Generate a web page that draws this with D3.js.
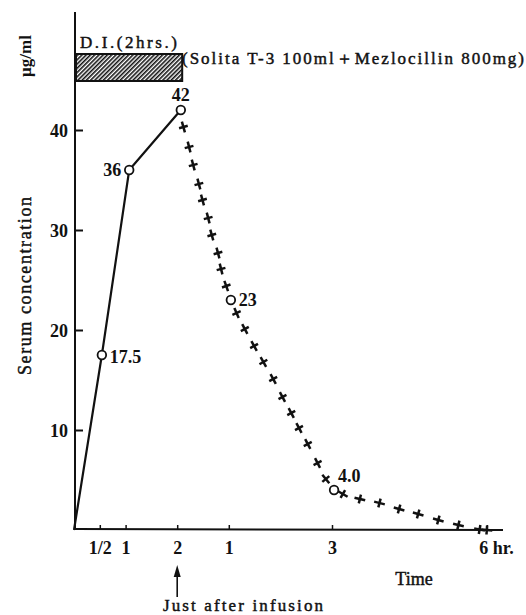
<!DOCTYPE html>
<html>
<head>
<meta charset="utf-8">
<script src="https://cdn.jsdelivr.net/npm/d3@7/dist/d3.min.js"></script>
<style>
html,body{margin:0;padding:0;background:#fff;}
svg{display:block;}
text{font-family:"Liberation Serif","DejaVu Serif",serif;fill:#111;}
.med{stroke:#111;stroke-width:0.45px;}
</style>
</head>
<body>
<svg id="chart" width="526" height="615"></svg>
<script>
// ---- data ----
const yTickValues = [10, 20, 30, 40];
const xTickValues = [0.5, 1, 2, 3, 5, 8];
const xTickLabels = ["1/2", "1", "2", "1", "3", "6 hr."];

// infusion phase (solid line + circles)
const infusionTimes  = [0, 0.54, 1.07, 2.07];
const infusionValues = [0, 17.5, 36, 42];

// labelled measurement circles
const circleTimes  = [0.54, 1.07, 2.07, 3.04, 5.04];
const circleValues = [17.5, 36, 42, 23, 4.0];
const circleLabels = ["17.5", "36", "42", "23", "4.0"];

// decay curve drawn as crosses
const crossTimes  = [2.12, 2.23, 2.31, 2.42, 2.49, 2.60, 2.67, 2.79, 2.85, 2.95,
                     3.15, 3.31, 3.49, 3.67, 3.86, 4.04, 4.21, 4.36, 4.53, 4.72, 4.88,
                     5.21, 5.54, 5.92, 6.30, 6.67, 7.06, 7.45, 7.86, 8.0];
const crossValues = [40.3, 38.3, 36.5, 34.6, 33.0, 31.2, 29.5, 27.7, 26.1, 24.4,
                     21.7, 20.1, 18.4, 16.8, 15.1, 13.3, 11.7, 10.2, 8.6, 6.7, 5.1,
                     3.6, 3.1, 2.7, 2.1, 1.6, 1.0, 0.5, 0.05, 0.0];

const infusionHours = [0, 2];

// ---- drawing ----
const svg = d3.select("#chart");
const x = d3.scaleLinear().domain([0, 8]).range([74, 486.8]);
const y = d3.scaleLinear().domain([0, 40]).range([530, 130]);

const defs = svg.append("defs");
const pat = defs.append("pattern").attr("id", "hatch")
  .attr("patternUnits", "userSpaceOnUse").attr("width", 3).attr("height", 3)
  .attr("patternTransform", "rotate(45)");
pat.append("line").attr("x1", 0.8).attr("y1", 0).attr("x2", 0.8).attr("y2", 3)
  .attr("stroke", "#111").attr("stroke-width", 1.6);

// axis lines
svg.append("line").attr("x1", 75).attr("x2", 75).attr("y1", 12).attr("y2", 529)
  .attr("stroke", "#111").attr("stroke-width", 2);
svg.append("line").attr("x1", 74).attr("x2", 503).attr("y1", 529).attr("y2", 530)
  .attr("stroke", "#111").attr("stroke-width", 2);

// y axis ticks
const yAxis = d3.axisLeft(y).tickValues(yTickValues).tickSizeInner(-8).tickSizeOuter(0).tickPadding(7);
const gy = svg.append("g").attr("transform", "translate(75,0)").call(yAxis);
gy.select(".domain").remove();
gy.selectAll(".tick line").attr("stroke", "#111").attr("stroke-width", 2);
gy.selectAll(".tick text").attr("font-size", 18).attr("font-weight", "bold")
  .attr("font-family", "Liberation Serif").attr("fill", "#111").attr("dy", "0.36em");

// x axis ticks
const xAxis = d3.axisBottom(x).tickValues(xTickValues).tickSizeInner(-4).tickSizeOuter(0).tickPadding(12)
  .tickFormat((d, i) => xTickLabels[i]);
const gx = svg.append("g").attr("transform", "translate(0,529)").call(xAxis);
gx.select(".domain").remove();
gx.selectAll(".tick line").attr("stroke", "#111").attr("stroke-width", 1.5);
gx.selectAll(".tick text").attr("font-size", 18).attr("font-weight", "bold")
  .attr("font-family", "Liberation Serif").attr("fill", "#111");
gx.selectAll(".tick text").filter((d, i) => i === xTickLabels.length - 1)
  .attr("text-anchor", "start").attr("x", -8);

// infusion bar
svg.append("rect").attr("x", x(infusionHours[0]) + 2).attr("y", 54)
  .attr("width", x(infusionHours[1]) + 5 - x(infusionHours[0]) - 2).attr("height", 27)
  .attr("fill", "url(#hatch)").attr("stroke", "#111").attr("stroke-width", 2);
svg.append("text").attr("class", "med").attr("x", 80).attr("y", 48).attr("font-size", 17)
  .attr("textLength", 97).text("D.I.(2hrs.)");
svg.append("text").attr("class", "med").attr("x", 182).attr("y", 64).attr("font-size", 17)
  .attr("textLength", 342)
  .text("(Solita T-3 100ml\uFF0BMezlocillin 800mg)");

// solid infusion line
const line = d3.line().x((d, i) => x(infusionTimes[i])).y((d, i) => y(infusionValues[i]));
svg.append("path").datum(infusionTimes).attr("d", line)
  .attr("fill", "none").attr("stroke", "#111").attr("stroke-width", 2.2);

// crosses
const cpts = crossTimes.map((t, i) => [x(t), y(crossValues[i])]);
cpts.forEach((p, i) => {
  const a = cpts[Math.max(0, i - 1)], b = cpts[Math.min(cpts.length - 1, i + 1)];
  const ang = Math.atan2(b[1] - a[1], b[0] - a[0]) * 180 / Math.PI;
  const g = svg.append("g").attr("transform", `translate(${p[0]},${p[1]}) rotate(${ang})`);
  g.append("line").attr("x1", -5.5).attr("x2", 5.5).attr("y1", 0).attr("y2", 0)
    .attr("stroke", "#111").attr("stroke-width", 2.5);
  g.append("line").attr("x1", 0).attr("x2", 0).attr("y1", -4.5).attr("y2", 4.5)
    .attr("stroke", "#111").attr("stroke-width", 2.5);
});

// circles
svg.selectAll("circle.pt").data(circleTimes).join("circle").attr("class", "pt")
  .attr("cx", (d) => x(d)).attr("cy", (d, i) => y(circleValues[i])).attr("r", 4.3)
  .attr("fill", "#fff").attr("stroke", "#111").attr("stroke-width", 1.8);

// circle labels
const labelOffsets = [[8, 8, "start"], [-8, 6, "end"], [0, -9, "middle"], [8, 6, "start"], [4, -8, "start"]];
svg.selectAll("text.pl").data(circleTimes).join("text").attr("class", "pl")
  .attr("x", (d, i) => x(d) + labelOffsets[i][0])
  .attr("y", (d, i) => y(circleValues[i]) + labelOffsets[i][1])
  .attr("text-anchor", (d, i) => labelOffsets[i][2])
  .attr("font-size", 18).attr("font-weight", "bold")
  .text((d, i) => circleLabels[i]);

// axis titles
svg.append("text").attr("transform", "translate(31,56) rotate(-90)")
  .attr("text-anchor", "middle").attr("font-size", 17).attr("font-weight", "bold").text("\u03BCg/ml");
svg.append("text").attr("class", "med").attr("transform", "translate(31,286) rotate(-90)")
  .attr("text-anchor", "middle").attr("font-size", 18).attr("textLength", 178).text("Serum concentration");
svg.append("text").attr("class", "med").attr("x", 414).attr("y", 585).attr("text-anchor", "middle")
  .attr("font-size", 18).text("Time");

// arrow
svg.append("line").attr("x1", x(2)).attr("x2", x(2)).attr("y1", 572).attr("y2", 597)
  .attr("stroke", "#111").attr("stroke-width", 1.6);
svg.append("path").attr("d", `M${x(2)},565 L${x(2) - 3.5},577 L${x(2) + 3.5},577 Z`).attr("fill", "#111");
svg.append("text").attr("class", "med").attr("x", 243).attr("y", 611).attr("text-anchor", "middle")
  .attr("font-size", 17).attr("textLength", 160).text("Just after infusion");
</script>
</body>
</html>
